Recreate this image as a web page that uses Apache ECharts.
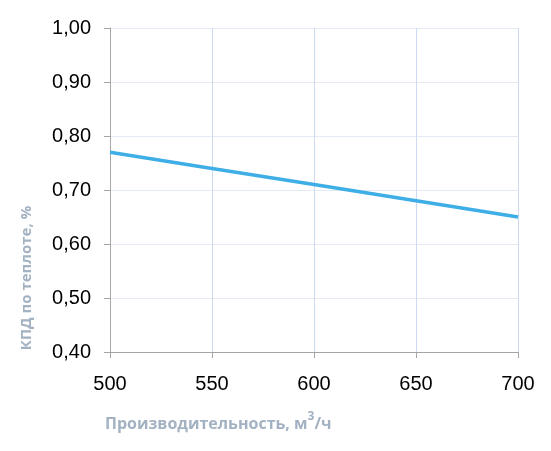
<!DOCTYPE html>
<html><head><meta charset="utf-8">
<script src="https://cdn.jsdelivr.net/npm/echarts@6/dist/echarts.min.js"></script>
<style>html,body{margin:0;padding:0;background:#fff}#c{width:551px;height:451px}</style>
</head><body><div id="c"></div>
<script>
const xValues = [500, 550, 600, 650, 700];
const efficiency = [0.77, 0.74, 0.71, 0.68, 0.65];
const xTitle = 'Производительность, м';
const yTitle = 'КПД по теплоте, %';
const chart = echarts.init(document.getElementById('c'));
const labelFont = '"Liberation Sans", Arial, sans-serif';
chart.setOption({
  animation: false,
  grid: {left: 110, right: 33, top: 28, bottom: 99},
  xAxis: {
    type: 'value', min: 500, max: 700, interval: 50,
    axisLine: {show: true, lineStyle: {color: '#a6a6a6', width: 1}},
    axisTick: {show: true, length: 6, lineStyle: {color: '#a6a6a6'}},
    axisLabel: {color: '#000', fontSize: 20, fontFamily: labelFont, margin: 22},
    splitLine: {show: true, lineStyle: {color: '#cbdaf0', width: 1}}
  },
  yAxis: {
    type: 'value', min: 0.4, max: 1.0, interval: 0.1,
    axisLine: {show: true, lineStyle: {color: '#a6a6a6', width: 1}},
    axisTick: {show: true, length: 6, lineStyle: {color: '#a6a6a6'}},
    axisLabel: {color: '#000', fontSize: 20, fontFamily: labelFont, margin: 19,
      formatter: v => v.toFixed(2).replace('.', ',')},
    splitLine: {show: true, lineStyle: {color: '#e3eaf3', width: 1}}
  },
  graphic: [
    {type: 'text', left: 105, top: 411,
      style: {rich: {
        t: {fill: '#a3b2c2', fontSize: 16, fontWeight: 'bold', fontFamily: '"Open Sans", sans-serif'},
        s: {fill: '#a3b2c2', fontSize: 12, fontWeight: 'bold', fontFamily: '"Open Sans", sans-serif', verticalAlign: 'top', padding: [0,0,14,0]}
      }, text: '{t|' + xTitle + '}{s|3}{t|/ч}'}},
    {type: 'text', x: 27, y: 278, rotation: Math.PI/2,
      style: {text: yTitle, fill: '#a3b2c2', fontSize: 15, fontWeight: 'bold', fontFamily: '"Open Sans", sans-serif',
        align: 'center', verticalAlign: 'middle'}}
  ],
  series: [{
    type: 'line', data: xValues.map((x, i) => [x, efficiency[i]]),
    showSymbol: false, symbol: 'none',
    lineStyle: {color: '#3eaee6', width: 3.5}
  }]
});
</script></body></html>
